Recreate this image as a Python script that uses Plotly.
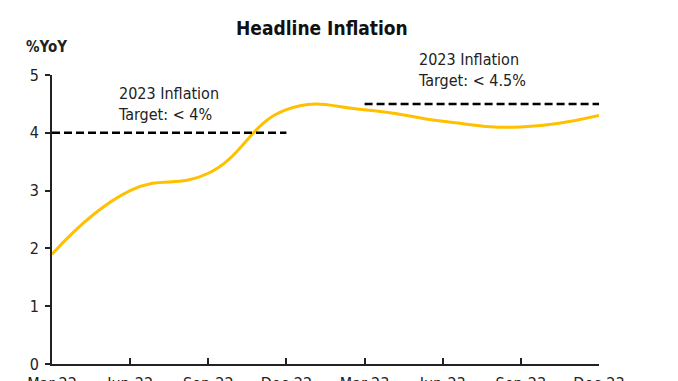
import plotly.graph_objects as go

quarters = ["Mar-22", "Jun-22", "Sep-22", "Dec-22", "Mar-23", "Jun-23", "Sep-23", "Dec-23"]
headline = [1.9, 3.0, 3.3, 4.4, 4.4, 4.2, 4.1, 4.3]
target_2022_x = ["Mar-22", "Dec-22"]
target_2022_y = [4.0, 4.0]
target_2023_x = ["Mar-23", "Dec-23"]
target_2023_y = [4.5, 4.5]
y_ticks = [0, 1, 2, 3, 4, 5]

FONT = "DejaVu Sans Condensed"

fig = go.Figure()
fig.add_trace(go.Scatter(x=quarters, y=headline, mode="lines",
                         line=dict(color="#FFC000", width=3, shape="spline", smoothing=1.3),
                         showlegend=False, hoverinfo="skip"))
fig.add_trace(go.Scatter(x=target_2022_x, y=target_2022_y, mode="lines",
                         line=dict(color="black", width=2.5, dash="8px,4px"),
                         showlegend=False, hoverinfo="skip"))
fig.add_trace(go.Scatter(x=target_2023_x, y=target_2023_y, mode="lines",
                         line=dict(color="black", width=2.5, dash="8px,4px"),
                         showlegend=False, hoverinfo="skip"))

fig.add_annotation(x=0.117, y=0.90, xref="paper", yref="paper", text="2023 Inflation<br>Target: < 4%",
                   showarrow=False, xanchor="left", yanchor="middle", align="left",
                   font=dict(family=FONT, size=16, color="#222"))
fig.add_annotation(x=0.665, y=1.017, xref="paper", yref="paper", text="2023 Inflation<br>Target: < 4.5%",
                   showarrow=False, xanchor="left", yanchor="middle", align="left",
                   font=dict(family=FONT, size=16, color="#222"))
fig.add_annotation(x=-0.051, y=1.097, xref="paper", yref="paper", text="<b>%YoY</b>",
                   showarrow=False, xanchor="left", yanchor="middle",
                   font=dict(family=FONT, size=15, color="#222"))

fig.update_layout(
    width=678, height=381,
    margin=dict(l=44, r=87, t=67, b=25, autoexpand=False),
    paper_bgcolor="white", plot_bgcolor="white",
    title=dict(text="<b>Headline Inflation</b>", x=0.463, xanchor="center", y=0.9475, yanchor="middle",
               font=dict(family=FONT, size=19, color="#111")),
    font=dict(family=FONT, color="#222"),
    xaxis=dict(type="category", range=[0, 7], showgrid=False, zeroline=False,
               showline=True, linecolor="#222", linewidth=2,
               ticks="inside", ticklen=6, tickwidth=2, tickcolor="#222",
               tickfont=dict(size=16), ticklabelstandoff=4, automargin=False),
    yaxis=dict(range=[0, 5], tickvals=y_ticks, showgrid=False, zeroline=False,
               showline=True, linecolor="#222", linewidth=2,
               ticks="outside", ticklen=5, tickwidth=2, tickcolor="#222",
               tickfont=dict(size=16), ticklabelstandoff=3, automargin=False),
)

fig.write_html("out.html")
